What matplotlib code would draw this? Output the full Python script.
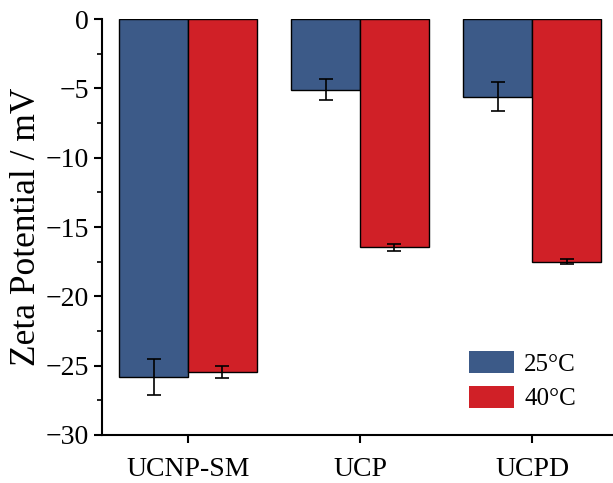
import numpy as np
import matplotlib.pyplot as plt
from matplotlib.patches import Patch
from matplotlib.ticker import MultipleLocator

# data
samples = ["UCNP-SM", "UCP", "UCPD"]
temps = ["25°C", "40°C"]
zeta_25 = [-25.8, -5.1, -5.6]
err_25 = [1.3, 0.75, 1.05]
zeta_40 = [-25.45, -16.45, -17.5]
err_40 = [0.45, 0.25, 0.2]

colors = ["#3C5A88", "#D02027"]

plt.rcParams.update({
    "font.family": "serif",
    "font.serif": ["Liberation Serif", "DejaVu Serif"],
    "mathtext.fontset": "stix",
})

fig = plt.figure(figsize=(6.13, 4.83), dpi=100)
ax = fig.add_axes([0.1664, 0.0994, 0.842, 0.861])

x = np.arange(len(samples))
w = 0.4
ekw = dict(ecolor="black", elinewidth=1.2, capsize=5, capthick=1.2)
ax.bar(x - w / 2, zeta_25, w, yerr=err_25, color=colors[0], edgecolor="black",
       linewidth=1.0, error_kw=ekw)
ax.bar(x + w / 2, zeta_40, w, yerr=err_40, color=colors[1], edgecolor="black",
       linewidth=1.0, error_kw=ekw)

ax.set_xlim(-0.5, 2.5)
ax.set_ylim(-30, 0)
ax.set_xticks(x)
ax.set_xticklabels(samples)
ax.yaxis.set_major_locator(MultipleLocator(5))
ax.yaxis.set_minor_locator(MultipleLocator(2.5))
ax.tick_params(axis="both", which="major", labelsize=20, length=6, width=1.5,
               direction="out")
ax.tick_params(axis="y", which="minor", length=3.5, width=1.2)
ax.tick_params(axis="x", pad=10)
ax.set_ylabel("Zeta Potential / mV", fontsize=25.5, labelpad=2)

for side in ["top", "right"]:
    ax.spines[side].set_visible(False)
for side in ["left", "bottom"]:
    ax.spines[side].set_linewidth(1.5)

# legend patches have no dark outline in the original
handles = [Patch(facecolor=c, edgecolor="none") for c in colors]
ax.legend(handles, temps, loc="upper left", bbox_to_anchor=(0.737, 0.31),
          bbox_transform=fig.transFigure, frameon=False, fontsize=18,
          handlelength=1.8, handleheight=1.0, handletextpad=0.4,
          labelspacing=0.4, borderpad=0.2)

fig.savefig("out.png", dpi=100)
